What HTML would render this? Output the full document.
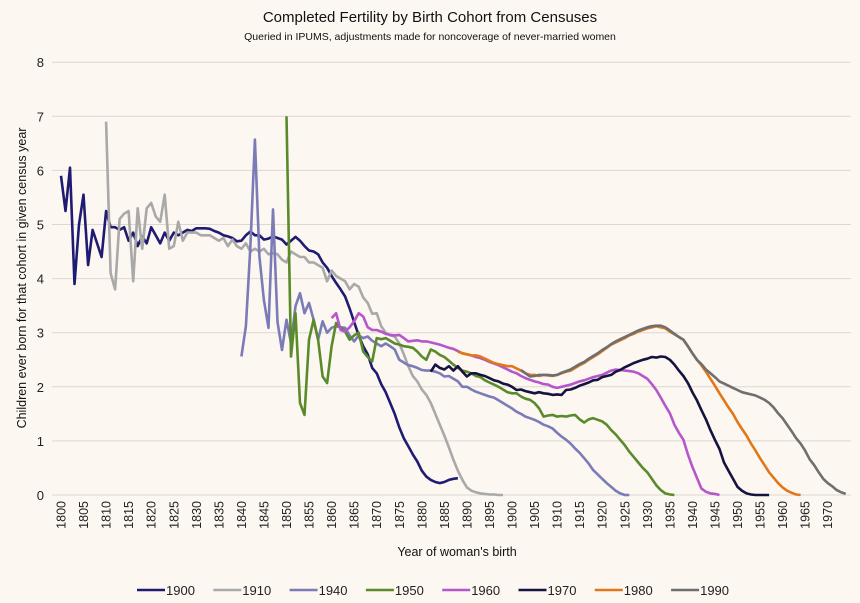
<!DOCTYPE html>
<html><head><meta charset="utf-8">
<style>
html,body{margin:0;padding:0;background:#fcf7f1;}
svg{display:block;font-family:"Liberation Sans",sans-serif;}
</style></head>
<body>
<svg id="chart" width="860" height="603" viewBox="0 0 860 603" xmlns="http://www.w3.org/2000/svg">
<rect x="0" y="0" width="860" height="603" fill="#fcf7f1"/>
<text x="430" y="22" text-anchor="middle" font-size="15" fill="#111">Completed Fertility by Birth Cohort from Censuses</text>
<text x="430" y="40" text-anchor="middle" font-size="10.5" fill="#111">Queried in IPUMS, adjustments made for noncoverage of never-married women</text>
<text transform="translate(26,278) rotate(-90)" text-anchor="middle" font-size="12.5" fill="#111">Children ever born for that cohort in given census year</text>
<text x="457" y="556" text-anchor="middle" font-size="12.5" fill="#111">Year of woman's birth</text>
<g id="grid"></g>
<g id="series"></g>
<g id="legend"></g>
</svg>
<script>
const yTicks = [0,1,2,3,4,5,6,7,8];
const xTickStart = 1800, xTickEnd = 1970, xTickStep = 5;
const seriesNames = ["1900","1910","1940","1950","1960","1970","1980","1990"];
const seriesColors = ["#1f1b73","#a9a9a9","#7b7bb8","#5b8a2b","#b656cb","#15133f","#e0781b","#6f6f6f"];

const years1900 = [1800,1801,1802,1803,1804,1805,1806,1807,1808,1809,1810,1811,1812,1813,1814,1815,1816,1817,1818,1819,1820,1821,1822,1823,1824,1825,1826,1827,1828,1829,1830,1831,1832,1833,1834,1835,1836,1837,1838,1839,1840,1841,1842,1843,1844,1845,1846,1847,1848,1849,1850,1851,1852,1853,1854,1855,1856,1857,1858,1859,1860,1861,1862,1863,1864,1865,1866,1867,1868,1869,1870,1871,1872,1873,1874,1875,1876,1877,1878,1879,1880,1881,1882,1883,1884,1885,1886,1887,1888];
const vals1900 = [5.9,5.25,6.05,3.9,5.0,5.55,4.25,4.9,4.65,4.4,5.25,4.95,4.95,4.9,4.95,4.7,4.85,4.6,4.78,4.65,4.95,4.8,4.65,4.85,4.7,4.85,4.8,4.85,4.9,4.88,4.93,4.93,4.93,4.92,4.88,4.85,4.8,4.78,4.75,4.69,4.7,4.8,4.87,4.8,4.8,4.72,4.74,4.78,4.75,4.72,4.63,4.7,4.77,4.7,4.6,4.52,4.5,4.45,4.3,4.2,4.05,3.92,3.8,3.67,3.45,3.2,2.95,2.75,2.6,2.35,2.25,2.05,1.9,1.7,1.5,1.25,1.05,0.9,0.75,0.62,0.45,0.34,0.28,0.24,0.22,0.24,0.28,0.3,0.31];

const years1910 = [1810,1811,1812,1813,1814,1815,1816,1817,1818,1819,1820,1821,1822,1823,1824,1825,1826,1827,1828,1829,1830,1831,1832,1833,1834,1835,1836,1837,1838,1839,1840,1841,1842,1843,1844,1845,1846,1847,1848,1849,1850,1851,1852,1853,1854,1855,1856,1857,1858,1859,1860,1861,1862,1863,1864,1865,1866,1867,1868,1869,1870,1871,1872,1873,1874,1875,1876,1877,1878,1879,1880,1881,1882,1883,1884,1885,1886,1887,1888,1889,1890,1891,1892,1893,1894,1895,1896,1897,1898];
const vals1910 = [6.9,4.1,3.8,5.1,5.2,5.25,3.95,5.3,4.55,5.3,5.4,5.15,5.05,5.55,4.55,4.6,5.05,4.7,4.85,4.85,4.85,4.8,4.8,4.8,4.75,4.7,4.75,4.6,4.72,4.6,4.55,4.65,4.5,4.55,4.5,4.55,4.45,4.47,4.45,4.35,4.3,4.5,4.45,4.4,4.4,4.3,4.3,4.25,4.2,3.95,4.15,4.05,4.0,3.95,3.8,3.9,3.85,3.65,3.55,3.35,3.36,3.12,3.0,2.95,2.93,2.8,2.6,2.38,2.2,2.1,1.95,1.85,1.7,1.5,1.3,1.1,0.88,0.65,0.45,0.28,0.14,0.08,0.05,0.03,0.02,0.01,0.01,0,0];

const years1940 = [1840,1841,1842,1843,1844,1845,1846,1847,1848,1849,1850,1851,1852,1853,1854,1855,1856,1857,1858,1859,1860,1861,1862,1863,1864,1865,1866,1867,1868,1869,1870,1871,1872,1873,1874,1875,1876,1877,1878,1879,1880,1881,1882,1883,1884,1885,1886,1887,1888,1889,1890,1891,1892,1893,1894,1895,1896,1897,1898,1899,1900,1901,1902,1903,1904,1905,1906,1907,1908,1909,1910,1911,1912,1913,1914,1915,1916,1917,1918,1919,1920,1921,1922,1923,1924,1925,1926];
const vals1940 = [2.56,3.12,4.6,6.57,4.41,3.6,3.09,5.28,3.2,2.68,3.24,2.81,3.49,3.73,3.36,3.55,3.24,2.87,3.21,3.0,3.09,3.12,3.1,3.09,2.95,2.84,2.95,2.9,2.93,2.85,2.8,2.75,2.8,2.75,2.69,2.5,2.45,2.4,2.38,2.35,2.31,2.3,2.3,2.28,2.25,2.19,2.2,2.15,2.1,2.0,2.0,1.95,1.91,1.88,1.85,1.82,1.8,1.75,1.7,1.65,1.6,1.54,1.5,1.45,1.42,1.39,1.35,1.3,1.27,1.23,1.15,1.08,1.02,0.95,0.86,0.78,0.68,0.58,0.46,0.38,0.3,0.22,0.15,0.08,0.03,0,0];

const years1950 = [1850,1851,1852,1853,1854,1855,1856,1857,1858,1859,1860,1861,1862,1863,1864,1865,1866,1867,1868,1869,1870,1871,1872,1873,1874,1875,1876,1877,1878,1879,1880,1881,1882,1883,1884,1885,1886,1887,1888,1889,1890,1891,1892,1893,1894,1895,1896,1897,1898,1899,1900,1901,1902,1903,1904,1905,1906,1907,1908,1909,1910,1911,1912,1913,1914,1915,1916,1917,1918,1919,1920,1921,1922,1923,1924,1925,1926,1927,1928,1929,1930,1931,1932,1933,1934,1935,1936];
const vals1950 = [7.0,2.56,3.36,1.7,1.48,2.87,3.24,2.87,2.19,2.07,2.75,3.18,3.1,3.02,2.87,2.95,3.0,2.65,2.55,2.47,2.9,2.88,2.9,2.85,2.8,2.78,2.75,2.74,2.72,2.65,2.56,2.5,2.69,2.65,2.59,2.55,2.48,2.41,2.35,2.3,2.28,2.25,2.2,2.18,2.12,2.08,2.04,2.0,1.95,1.9,1.88,1.88,1.82,1.78,1.76,1.7,1.6,1.45,1.47,1.48,1.45,1.46,1.45,1.47,1.48,1.4,1.34,1.4,1.42,1.39,1.36,1.3,1.2,1.12,1.02,0.92,0.8,0.7,0.6,0.5,0.42,0.3,0.18,0.09,0.03,0.01,0];

const years1960 = [1860,1861,1862,1863,1864,1865,1866,1867,1868,1869,1870,1871,1872,1873,1874,1875,1876,1877,1878,1879,1880,1881,1882,1883,1884,1885,1886,1887,1888,1889,1890,1891,1892,1893,1894,1895,1896,1897,1898,1899,1900,1901,1902,1903,1904,1905,1906,1907,1908,1909,1910,1911,1912,1913,1914,1915,1916,1917,1918,1919,1920,1921,1922,1923,1924,1925,1926,1927,1928,1929,1930,1931,1932,1933,1934,1935,1936,1937,1938,1939,1940,1941,1942,1943,1944,1945,1946];
const vals1960 = [3.27,3.36,3.05,3.02,3.1,3.21,3.36,3.3,3.1,3.05,3.05,3.02,2.98,2.96,2.95,2.96,2.9,2.84,2.85,2.86,2.84,2.84,2.82,2.8,2.78,2.75,2.72,2.7,2.66,2.62,2.6,2.58,2.55,2.53,2.5,2.46,2.43,2.4,2.36,2.32,2.28,2.25,2.2,2.16,2.13,2.1,2.08,2.05,2.04,2.0,1.98,2.0,2.02,2.04,2.07,2.1,2.12,2.15,2.18,2.2,2.22,2.26,2.3,2.32,2.31,2.3,2.29,2.28,2.25,2.2,2.15,2.05,1.94,1.8,1.65,1.51,1.3,1.15,1.02,0.75,0.52,0.32,0.12,0.06,0.03,0.02,0];

const years1970 = [1882,1883,1884,1885,1886,1887,1888,1889,1890,1891,1892,1893,1894,1895,1896,1897,1898,1899,1900,1901,1902,1903,1904,1905,1906,1907,1908,1909,1910,1911,1912,1913,1914,1915,1916,1917,1918,1919,1920,1921,1922,1923,1924,1925,1926,1927,1928,1929,1930,1931,1932,1933,1934,1935,1936,1937,1938,1939,1940,1941,1942,1943,1944,1945,1946,1947,1948,1949,1950,1951,1952,1953,1954,1955,1956,1957];
const vals1970 = [2.28,2.41,2.35,2.32,2.38,2.3,2.38,2.28,2.19,2.25,2.25,2.22,2.2,2.16,2.12,2.1,2.06,2.04,2.0,1.94,1.95,1.92,1.9,1.88,1.9,1.88,1.87,1.85,1.86,1.85,1.94,1.95,1.98,2.02,2.05,2.08,2.12,2.13,2.18,2.2,2.22,2.28,2.31,2.36,2.4,2.44,2.47,2.5,2.52,2.55,2.54,2.56,2.55,2.5,2.41,2.3,2.2,2.07,1.9,1.75,1.57,1.4,1.2,1.02,0.85,0.6,0.45,0.3,0.15,0.08,0.03,0.01,0,0,0,0];

const years1980 = [1888,1889,1890,1891,1892,1893,1894,1895,1896,1897,1898,1899,1900,1901,1902,1903,1904,1905,1906,1907,1908,1909,1910,1911,1912,1913,1914,1915,1916,1917,1918,1919,1920,1921,1922,1923,1924,1925,1926,1927,1928,1929,1930,1931,1932,1933,1934,1935,1936,1937,1938,1939,1940,1941,1942,1943,1944,1945,1946,1947,1948,1949,1950,1951,1952,1953,1954,1955,1956,1957,1958,1959,1960,1961,1962,1963,1964];
const vals1980 = [2.65,2.62,2.6,2.58,2.58,2.56,2.52,2.48,2.44,2.42,2.4,2.38,2.38,2.34,2.3,2.25,2.22,2.22,2.2,2.22,2.21,2.2,2.22,2.25,2.28,2.3,2.35,2.4,2.44,2.5,2.55,2.6,2.66,2.72,2.78,2.82,2.86,2.9,2.95,2.98,3.02,3.05,3.08,3.1,3.12,3.1,3.08,3.02,2.97,2.92,2.87,2.75,2.62,2.5,2.4,2.28,2.15,2.02,1.88,1.75,1.62,1.5,1.35,1.22,1.1,0.95,0.82,0.68,0.55,0.42,0.32,0.22,0.14,0.08,0.04,0.01,0];

const years1990 = [1902,1903,1904,1905,1906,1907,1908,1909,1910,1911,1912,1913,1914,1915,1916,1917,1918,1919,1920,1921,1922,1923,1924,1925,1926,1927,1928,1929,1930,1931,1932,1933,1934,1935,1936,1937,1938,1939,1940,1941,1942,1943,1944,1945,1946,1947,1948,1949,1950,1951,1952,1953,1954,1955,1956,1957,1958,1959,1960,1961,1962,1963,1964,1965,1966,1967,1968,1969,1970,1971,1972,1973,1974];
const vals1990 = [2.31,2.25,2.19,2.2,2.22,2.22,2.22,2.21,2.22,2.26,2.29,2.32,2.37,2.42,2.46,2.52,2.57,2.62,2.68,2.73,2.79,2.84,2.88,2.92,2.96,3.0,3.04,3.07,3.1,3.12,3.13,3.13,3.1,3.04,2.98,2.92,2.87,2.75,2.62,2.5,2.42,2.32,2.25,2.18,2.1,2.06,2.02,1.98,1.94,1.9,1.88,1.86,1.84,1.8,1.76,1.7,1.62,1.51,1.42,1.3,1.18,1.05,0.95,0.82,0.66,0.55,0.42,0.3,0.22,0.16,0.09,0.05,0.02];

const seriesYears = [years1900,years1910,years1940,years1950,years1960,years1970,years1980,years1990];
const seriesVals = [vals1900,vals1910,vals1940,vals1950,vals1960,vals1970,vals1980,vals1990];

const NS = "http://www.w3.org/2000/svg";
const X0 = 61, PXY = 4.51, Y0 = 495, PXV = 54.1;
function xScale(yr){ return X0 + (yr - 1800) * PXY; }
function yScale(v){ return Y0 - v * PXV; }

const grid = document.getElementById('grid');
yTicks.forEach(t => {
  const l = document.createElementNS(NS,'line');
  l.setAttribute('x1',52); l.setAttribute('x2',851);
  l.setAttribute('y1',yScale(t)); l.setAttribute('y2',yScale(t));
  l.setAttribute('stroke', '#dcd7d1'); l.setAttribute('stroke-width',1);
  
  
  grid.appendChild(l);
  const tx = document.createElementNS(NS,'text');
  tx.setAttribute('x',44); tx.setAttribute('y',yScale(t)+5);
  tx.setAttribute('text-anchor','end'); tx.setAttribute('font-size','13'); tx.setAttribute('fill','#222');
  tx.textContent = t;
  
  
  grid.appendChild(tx);
});
for (let yr = xTickStart; yr <= xTickEnd; yr += xTickStep) {
  const tx = document.createElementNS(NS,'text');
  const x = xScale(yr) + 4.5;
  tx.setAttribute('transform','translate(' + x + ',501) rotate(-90)');
  tx.setAttribute('text-anchor','end'); tx.setAttribute('font-size','12.5'); tx.setAttribute('fill','#222');
  tx.textContent = yr;
  
  
  grid.appendChild(tx);
}

const sg = document.getElementById('series');
seriesNames.forEach((name, i) => {
  const ys = seriesYears[i], vs = seriesVals[i];
  let d = '';
  for (let k = 0; k < ys.length; k++) {
    d += (k ? 'L' : 'M') + xScale(ys[k]).toFixed(1) + ',' + yScale(vs[k]).toFixed(1);
  }
  const p = document.createElementNS(NS,'path');
  p.setAttribute('d', d); p.setAttribute('fill','none');
  p.setAttribute('stroke', seriesColors[i]); p.setAttribute('stroke-width', 2.6);
  p.setAttribute('stroke-linejoin','round');
  
  
  sg.appendChild(p);
});

const lg = document.getElementById('legend');
seriesNames.forEach((name, i) => {
  const gx = 137 + i * 76.3;
  const g = document.createElementNS(NS,'g');
  
  
  const l = document.createElementNS(NS,'line');
  l.setAttribute('x1', gx); l.setAttribute('x2', gx + 28);
  l.setAttribute('y1', 590); l.setAttribute('y2', 590);
  l.setAttribute('stroke', seriesColors[i]); l.setAttribute('stroke-width', 2.6);
  
  
  g.appendChild(l);
  const t = document.createElementNS(NS,'text');
  t.setAttribute('x', gx + 29); t.setAttribute('y', 595);
  t.setAttribute('font-size','13'); t.setAttribute('fill','#222');
  t.textContent = name;
  
  
  g.appendChild(t);
  lg.appendChild(g);
});
</script>
</body></html>
